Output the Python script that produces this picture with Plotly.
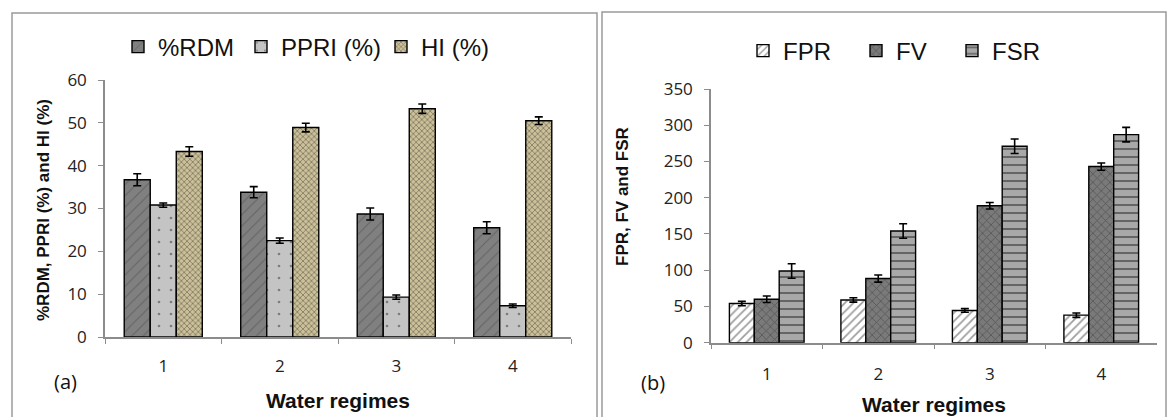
import plotly.graph_objects as go

regimes = ["1", "2", "3", "4"]

# Panel (a)
rdm = [36.7, 33.8, 28.7, 25.5]
rdm_err = [1.4, 1.3, 1.4, 1.4]
ppri = [30.8, 22.5, 9.3, 7.3]
ppri_err = [0.5, 0.6, 0.5, 0.4]
hi = [43.3, 48.9, 53.3, 50.5]
hi_err = [1.1, 1.0, 1.1, 0.9]

# Panel (b)
fpr = [54, 59, 44.5, 38]
fpr_err = [3, 3, 2.5, 3]
fv = [60, 88.5, 189, 243]
fv_err = [4.5, 5, 4.5, 5]
fsr = [99, 154, 271, 287]
fsr_err = [10, 10, 10, 10]

W, H = 1167, 417
def px(x): return x / W
def py(y): return 1 - y / H

fig = go.Figure()

def bar(name, x, y, err, fill, shape, fg, xa, ya, legend, size=6, solidity=0.3):
    fig.add_trace(go.Bar(
        name=name, x=x, y=y, xaxis=xa, yaxis=ya, legend=legend, showlegend=True,
        marker=dict(color=fill, line=dict(color="black", width=1.4),
                    pattern=dict(shape=shape, fgcolor=fg, bgcolor=fill, size=size, solidity=solidity)),
        error_y=dict(type="data", array=err, color="black", thickness=1.6, width=4),
    ))

bar("%RDM", regimes, rdm, rdm_err, "#808080", "/", "#454545", "x", "y", "legend", 8, 0.12)
bar("PPRI (%)", regimes, ppri, ppri_err, "#c4c4c4", ".", "#333333", "x", "y", "legend2", 12, 0.04)
bar("HI (%)", regimes, hi, hi_err, "#cbc09a", "x", "#2e2a1c", "x", "y", "legend3", 4, 0.35)

bar("FPR", regimes, fpr, fpr_err, "#ffffff", "/", "#404040", "x2", "y2", "legend4", 6, 0.3)
bar("FV", regimes, fv, fv_err, "#7a7a7a", "x", "#303030", "x2", "y2", "legend5", 6, 0.25)
bar("FSR", regimes, fsr, fsr_err, "#a8a8a8", "-", "#222222", "x2", "y2", "legend6", 8, 0.25)

tickfont = dict(family="Open Sans", size=17, color="#222")
axis_common = dict(showline=True, linecolor="#8c8c8c", linewidth=1.5, ticks="outside",
                   tickcolor="#8c8c8c", ticklen=5, tickfont=tickfont, showgrid=False,
                   zeroline=False, automargin=False)

def leg(xc, yc):
    # xc: desired symbol center (page px), yc: text centre (page px)
    return dict(orientation="h", x=px(xc - 18), y=py(yc), yanchor="middle", xanchor="left",
                font=dict(family="Liberation Sans", size=24, color="#111"),
                itemwidth=30, bgcolor="rgba(0,0,0,0)", visible=True)

def ann(text, x, y, size, family="Liberation Sans", angle=0):
    return dict(text=text, x=px(x), y=py(y), xref="paper", yref="paper",
                xanchor="center", yanchor="middle", textangle=angle, showarrow=False,
                font=dict(family=family, size=size, color="#111"))

fig.update_layout(
    width=W, height=H, margin=dict(l=0, r=0, t=0, b=0, autoexpand=False),
    plot_bgcolor="white", paper_bgcolor="white", showlegend=True,
    barmode="group", bargap=0.33, bargroupgap=0,
    xaxis=dict(domain=[px(105), px(571)], anchor="y", tickson="boundaries",
               ticklabelstandoff=13, **axis_common),
    yaxis=dict(domain=[py(337), py(80)], anchor="x", range=[0, 60], dtick=10,
               ticklabelstandoff=8, **axis_common),
    xaxis2=dict(domain=[px(711), px(1157)], anchor="y2", tickson="boundaries",
                ticklabelstandoff=15, **axis_common),
    yaxis2=dict(domain=[py(342.7), py(89)], anchor="x2", range=[0, 350], dtick=50,
                ticklabelstandoff=8, **axis_common),
    legend=leg(136, 47),
    legend2=leg(259, 47),
    legend3=leg(399, 47),
    legend4=leg(761, 51),
    legend5=leg(874, 51),
    legend6=leg(970, 51),
    shapes=[
        dict(type="rect", xref="paper", yref="paper", x0=px(12), x1=px(597), y0=py(418), y1=py(13),
             line=dict(color="#9a9a9a", width=1.5)),
        dict(type="rect", xref="paper", yref="paper", x0=px(602), x1=px(1166), y0=py(418), y1=py(12),
             line=dict(color="#9a9a9a", width=1.5)),
    ],
    annotations=[
        ann("<b>%RDM, PPRI (%) and HI (%)</b>", 43, 210, 17, angle=-90),
        ann("<b>Water regimes</b>", 338, 400, 21),
        ann("(a)", 65.5, 381, 20, family="Open Sans"),
        ann("<b>FPR, FV and FSR</b>", 623, 197, 17, angle=-90),
        ann("<b>Water regimes</b>", 934, 404, 21),
        ann("(b)", 653, 382, 20, family="Open Sans"),
    ],
)

fig.write_html("out.html", config={"displayModeBar": False},
               post_script="document.body.style.margin='0';document.body.style.overflow='hidden';")
